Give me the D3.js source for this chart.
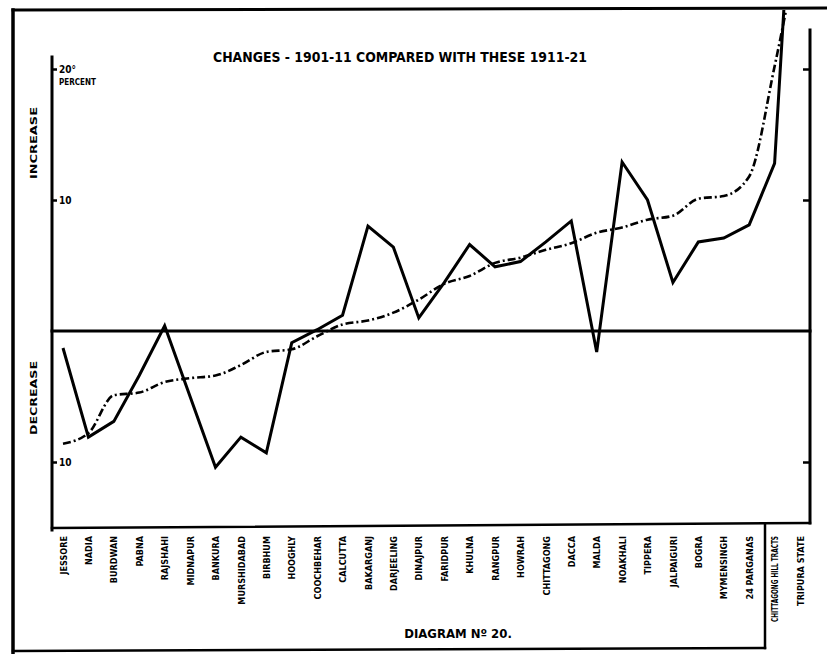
<!DOCTYPE html>
<html>
<head>
<meta charset="utf-8">
<script src="https://cdn.jsdelivr.net/npm/d3@7"></script>
<style>
  html, body { margin: 0; padding: 0; background: #fff; }
  svg { display: block; }
  text { font-family: "DejaVu Sans Condensed", "Liberation Sans Narrow", sans-serif; font-weight: bold; fill: #000; }
</style>
</head>
<body>
<div id="chart"></div>
<script>
const categories = ["JESSORE","NADIA","BURDWAN","PABNA","RAJSHAHI","MIDNAPUR","BANKURA","MURSHIDABAD","BIRBHUM","HOOGHLY","COOCHBEHAR","CALCUTTA","BAKARGANJ","DARJEELING","DINAJPUR","FARIDPUR","KHULNA","RANGPUR","HOWRAH","CHITTAGONG","DACCA","MALDA","NOAKHALI","TIPPERA","JALPAIGURI","BOGRA","MYMENSINGH","24 PARGANAS","CHITTAGONG HILL TRACTS","TRIPURA STATE"];
const solidValues = [-1.3,-8.1,-6.9,-3.4,0.4,-5.0,-10.4,-8.1,-9.3,-0.9,0.1,1.2,8.0,6.4,1.0,3.7,6.6,4.9,5.3,6.8,8.4,-1.6,12.9,10.0,3.7,6.8,7.1,8.1,12.8,45];
const dashedValues = [-8.6,-7.8,-4.9,-4.7,-3.9,-3.6,-3.4,-2.6,-1.6,-1.4,-0.4,0.5,0.8,1.4,2.4,3.6,4.2,5.2,5.6,6.2,6.7,7.5,7.9,8.5,8.8,10.1,10.3,11.8,20.2,30];
const yTickValues = [20, 10, -10];
const yTickLabels = ["20°", "10", "10"];
const titleText = "CHANGES - 1901-11 COMPARED WITH THESE 1911-21";
const footerText = "DIAGRAM Nº 20.";

const W = 827, H = 654;
const svg = d3.select("#chart").append("svg").attr("width", W).attr("height", H);

const x = d3.scalePoint().domain(categories).range([63, 800]);
const y = d3.scaleLinear().domain([-10, 20]).range([462, 69]);

const axisLeftX = 52, axisRightX = 810, plotBottom = 525;

// outer frame
const frame = svg.append("g").attr("stroke", "#000").attr("fill", "none").attr("stroke-linecap", "square");
frame.append("line").attr("x1", 13).attr("y1", 10).attr("x2", 13).attr("y2", H).attr("stroke-width", 3.5);
frame.append("line").attr("x1", 13).attr("y1", 10).attr("x2", W).attr("y2", 8).attr("stroke-width", 3);
frame.append("line").attr("x1", 13).attr("y1", 651).attr("x2", 765).attr("y2", 648).attr("stroke-width", 2.5);
frame.append("line").attr("x1", 765).attr("y1", plotBottom).attr("x2", 765).attr("y2", 648).attr("stroke-width", 2.5);

// plot box lines
frame.append("line").attr("x1", axisLeftX).attr("y1", 57).attr("x2", axisLeftX).attr("y2", 530).attr("stroke-width", 3);
frame.append("line").attr("x1", axisLeftX).attr("y1", 528).attr("x2", axisRightX).attr("y2", plotBottom - 2).attr("stroke-width", 2.5);
frame.append("line").attr("x1", axisRightX).attr("y1", 30).attr("x2", axisRightX).attr("y2", plotBottom - 2).attr("stroke-width", 3);
// zero line
frame.append("line").attr("x1", axisLeftX).attr("y1", y(0)).attr("x2", axisRightX).attr("y2", y(0)).attr("stroke-width", 3);

// left axis ticks
const leftAxis = svg.append("g").attr("transform", `translate(${axisLeftX},0)`)
  .call(d3.axisRight(y).tickValues(yTickValues).tickSize(5).tickPadding(2)
    .tickFormat((d, i) => yTickLabels[i]));
leftAxis.select(".domain").remove();
leftAxis.selectAll(".tick line").attr("stroke", "#000").attr("stroke-width", 2.5);
leftAxis.selectAll(".tick text").attr("font-size", 10).attr("dy", "0.35em");
leftAxis.append("text").attr("x", 7).attr("y", y(20) + 16).attr("font-size", 8)
  .attr("text-anchor", "start").text("PERCENT");

// right axis ticks
const rightAxis = svg.append("g").attr("transform", `translate(${axisRightX},0)`)
  .call(d3.axisLeft(y).tickValues(yTickValues).tickSize(7).tickFormat(""));
rightAxis.select(".domain").remove();
rightAxis.selectAll(".tick line").attr("stroke", "#000").attr("stroke-width", 2.5);

// side labels
svg.append("text").attr("transform", `translate(37,${143}) rotate(-90)`)
  .attr("text-anchor", "middle").attr("font-size", 8)
  .attr("textLength", 72).attr("lengthAdjust", "spacingAndGlyphs").text("INCREASE");
svg.append("text").attr("transform", `translate(37,${398}) rotate(-90)`)
  .attr("text-anchor", "middle").attr("font-size", 8)
  .attr("textLength", 74).attr("lengthAdjust", "spacingAndGlyphs").text("DECREASE");

// title
svg.append("text").attr("x", 400).attr("y", 62).attr("text-anchor", "middle")
  .attr("font-size", 14).attr("textLength", 374).attr("lengthAdjust", "spacingAndGlyphs").text(titleText);

// category labels (read bottom-to-top, top end just under the plot)
const xAxis = svg.append("g").attr("transform", `translate(0,536)`)
  .call(d3.axisBottom(x).tickSize(0).tickPadding(0));
xAxis.select(".domain").remove();
xAxis.selectAll(".tick text")
  .attr("transform", "rotate(-90)")
  .attr("text-anchor", "end")
  .attr("x", 0).attr("y", 0).attr("dy", "0.35em")
  .attr("font-size", 9)
  .each(function(d) {
    const t = d3.select(this);
    const len = this.getComputedTextLength();
    if (len > 86) t.attr("textLength", 86).attr("lengthAdjust", "spacingAndGlyphs");
  });

// footer
svg.append("text").attr("x", 458).attr("y", 638).attr("text-anchor", "middle")
  .attr("font-size", 13).text(footerText);

// clip for lines
svg.append("clipPath").attr("id", "clip").append("rect")
  .attr("x", axisLeftX).attr("y", 10).attr("width", W - axisLeftX).attr("height", plotBottom - 10);

const solidLine = d3.line().x((d, i) => x(categories[i])).y(d => y(d));
const dashedLine = d3.line().x((d, i) => x(categories[i])).y(d => y(d)).curve(d3.curveMonotoneX);

const lines = svg.append("g").attr("clip-path", "url(#clip)");
lines.append("path").datum(dashedValues).attr("d", dashedLine)
  .attr("fill", "none").attr("stroke", "#000").attr("stroke-width", 2.6)
  .attr("stroke-dasharray", "8,3,2,3");
lines.append("path").datum(solidValues).attr("d", solidLine)
  .attr("fill", "none").attr("stroke", "#000").attr("stroke-width", 3).attr("stroke-linejoin", "miter");
</script>
</body>
</html>
